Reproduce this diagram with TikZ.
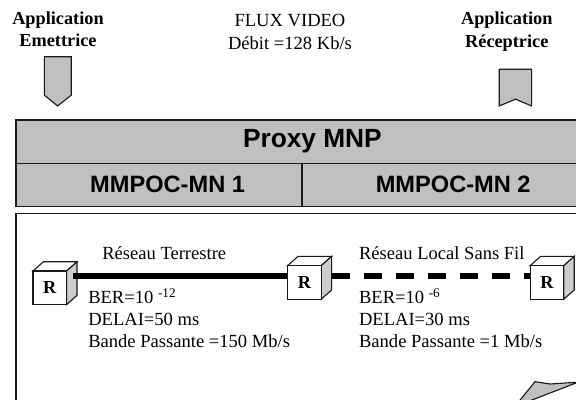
\documentclass[tikz,border=0pt]{standalone}
\usepackage{fontspec}
\setmainfont{Liberation Serif}
\setsansfont{Liberation Sans}
\definecolor{MNPgray}{HTML}{C0C0C0}
\definecolor{MNPline}{HTML}{1A1A1A}
\usetikzlibrary{calc, positioning}
\tikzset{
   barlabel/.style={font=\sffamily\bfseries\fontsize{16.8}{20}\selectfont},
   applabel/.style={font=\bfseries\fontsize{13}{15.6}\selectfont, align=center},
   netlabel/.style={font=\fontsize{13.2}{15.65}\selectfont, align=left, inner sep=0pt},
   routerbox/.style={draw=MNPline, thick, fill=white, minimum size=0.84cm, inner sep=0pt,
      font=\bfseries\fontsize{13}{15}\selectfont},
   outline/.style={draw=MNPline, thick},
   linkline/.style={line width=3.7pt, black}
}
\newcommand{\powten}[1]{\raisebox{4.6pt}{\fontsize{9.4}{10}\selectfont #1}}

\begin{document}
\begin{tikzpicture}
   \useasboundingbox (0,0) rectangle (14.4,10);
   \clip (0,0) rectangle (14.4,10);
   % Applications
   \node[applabel] (appsend) at (1.45,9.28) {Application\\Emettrice};
   \node[applabel, font=\bfseries\fontsize{13}{16.2}\selectfont] (apprecv) at (12.67,9.21) {Application\\Réceptrice};
   \node[font=\fontsize{13.2}{16.4}\selectfont, align=center] (flux) at (7.25,9.19) {FLUX VIDEO\\Débit =128 Kb/s};
   \filldraw[outline, fill=MNPgray] (1.11,8.58) -- (1.78,8.58) -- (1.78,7.62) -- (1.44,7.35) -- (1.11,7.62) -- cycle;
   \filldraw[outline, fill=MNPgray] (12.48,8.27) -- (13.29,8.27) -- (13.29,7.35) -- (12.89,7.52) -- (12.48,7.35) -- cycle;
   % Proxy and MMPOC bars
   \filldraw[outline, fill=MNPgray] (0.4,7.0) rectangle (15.2,5.92);
   \filldraw[outline, fill=MNPgray] (0.4,5.92) rectangle (7.55,4.84);
   \filldraw[outline, fill=MNPgray] (7.55,5.92) rectangle (15.2,4.84);
   \node[font=\sffamily\bfseries\fontsize{18.7}{22}\selectfont] (proxy) at (7.81,6.46) {Proxy MNP};
   \node[barlabel] (mmpocA) at (4.19,5.38) {MMPOC-MN 1};
   \node[barlabel] (mmpocB) at (11.33,5.38) {MMPOC-MN 2};
   % Network frame
   \draw[outline] (15.2,4.66) -- (0.4,4.66) -- (0.4,-0.5);
   % Routers
   \foreach \name/\x/\y in {routerA/1.245/2.805, routerB/7.61/2.94, routerC/13.675/2.94} {
      \filldraw[outline, fill=white] (\x-0.42,\y+0.42) -- ++(0.26,0.23) -- ++(0.84,0) -- (\x+0.42,\y+0.42) -- cycle;
      \filldraw[outline, fill=MNPgray!80!white] (\x+0.42,\y+0.42) -- ++(0.26,0.23) -- ++(0,-0.84) -- (\x+0.42,\y-0.42) -- cycle;
      \node[routerbox] (\name) at (\x,\y) {R};
   }
   % Links
   \coordinate (linkA) at (1.82,3.1);
   \coordinate (linkB) at (8.29,3.1);
   \draw[linkline] (linkA) -- (linkA -| routerB.west);
   \draw[linkline, dash pattern=on 12.8pt off 10pt] (linkB) -- (linkB -| routerC.west);
   % Network labels
   \node[netlabel, anchor=base west] (landname) at (2.55,3.52) {Réseau Terrestre};
   \node[netlabel, anchor=base west] (wlanname) at (8.97,3.52) {Réseau Local Sans Fil};
   \node[netlabel, anchor=north west] (landspec) at (2.2,2.8) {BER=10 \powten{-12}\\DELAI=50 ms\\Bande Passante =150 Mb/s};
   \node[netlabel, anchor=north west] (wlanspec) at (8.97,2.8) {BER=10 \powten{-6}\\DELAI=30 ms\\Bande Passante =1 Mb/s};
   % Bottom shape
   \filldraw[outline, fill=MNPgray] (12.88,-0.15) -- (13.375,0.4575) .. controls (13.55,0.41) .. (13.75,0.4) -- (14.45,0.445) -- (12.915,-0.15) -- cycle;
\end{tikzpicture}
\end{document}
